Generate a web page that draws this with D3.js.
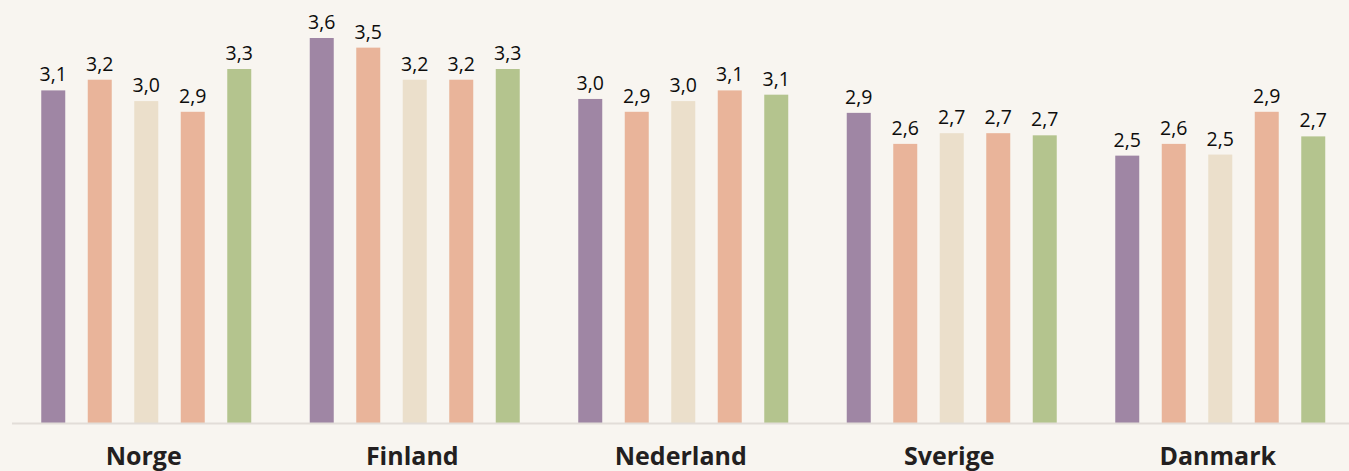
<!DOCTYPE html>
<html>
<head>
<meta charset="utf-8">
<script src="https://cdn.jsdelivr.net/npm/d3@7"></script>
<style>
  html, body { margin: 0; padding: 0; background: #f8f5f0; }
  svg { display: block; }
</style>
</head>
<body>
<div id="chart"></div>
<script>
// data
var countries = ['Norge', 'Finland', 'Nederland', 'Sverige', 'Danmark'];
var series = ['s1', 's2', 's3', 's4', 's5'];
var s1 = [3.11, 3.60, 3.03, 2.90, 2.50];
var s2 = [3.21, 3.51, 2.91, 2.61, 2.61];
var s3 = [3.01, 3.21, 3.01, 2.71, 2.51];
var s4 = [2.91, 3.21, 3.11, 2.71, 2.91];
var s5 = [3.31, 3.31, 3.07, 2.69, 2.68];
var colors = ['#9f86a4', '#e9b49a', '#ebdfcb', '#e9b49a', '#b4c48e'];

var values = [s1, s2, s3, s4, s5];

var width = 1349, height = 471;
var baseY = 423;

var svg = d3.select('#chart')
    .append('svg')
    .attr('width', width)
    .attr('height', height)
    .style('background', '#f8f5f0');

var x0 = d3.scaleBand()
    .domain(countries)
    .range([12, 1354.5])
    .padding(0);

var x1 = d3.scaleBand()
    .domain(series)
    .range([-116.25, 116.25])
    .paddingInner(0.484)
    .paddingOuter(0.242);

var y = d3.scaleLinear()
    .domain([0, 3.6])
    .range([baseY, 38]);

var fmt = function(v) { return v.toFixed(1).replace('.', ','); };

var groups = svg.selectAll('g.group')
    .data(countries)
    .enter().append('g')
    .attr('class', 'group')
    .attr('transform', function(d) { return 'translate(' + (x0(d) + x0.bandwidth() / 2) + ',0)'; });

var cells = groups.selectAll('g.cell')
    .data(function(d, ci) {
        return series.map(function(s, si) { return { s: s, si: si, v: values[si][ci] }; });
    })
    .enter().append('g')
    .attr('class', 'cell');

cells.append('rect')
    .attr('x', function(d) { return x1(d.s); })
    .attr('width', x1.bandwidth())
    .attr('y', function(d) { return y(d.v); })
    .attr('height', function(d) { return baseY - y(d.v); })
    .style('fill', function(d) { return colors[d.si]; });

cells.append('text')
    .attr('x', function(d) { return x1(d.s) + x1.bandwidth() / 2; })
    .attr('y', function(d) { return y(d.v) - 9; })
    .attr('text-anchor', 'middle')
    .style('font-family', '"Open Sans", sans-serif')
    .style('font-size', '19.5px')
    .style('fill', '#0d0d0d')
    .text(function(d) { return fmt(d.v); });

// axis
var axis = svg.append('g')
    .attr('transform', 'translate(0,' + baseY + ')')
    .call(d3.axisBottom(x0).tickSize(0).tickPadding(0));

axis.select('.domain')
    .attr('d', 'M12,0.5H' + width)
    .style('stroke', '#e2ddd8')
    .style('stroke-width', 2);

axis.selectAll('text')
    .attr('x', -2.5)
    .attr('y', 42)
    .attr('dy', 0)
    .style('font-family', '"Open Sans", sans-serif')
    .style('font-weight', 700)
    .style('font-size', '25px')
    .style('fill', '#231f20');
</script>
</body>
</html>
